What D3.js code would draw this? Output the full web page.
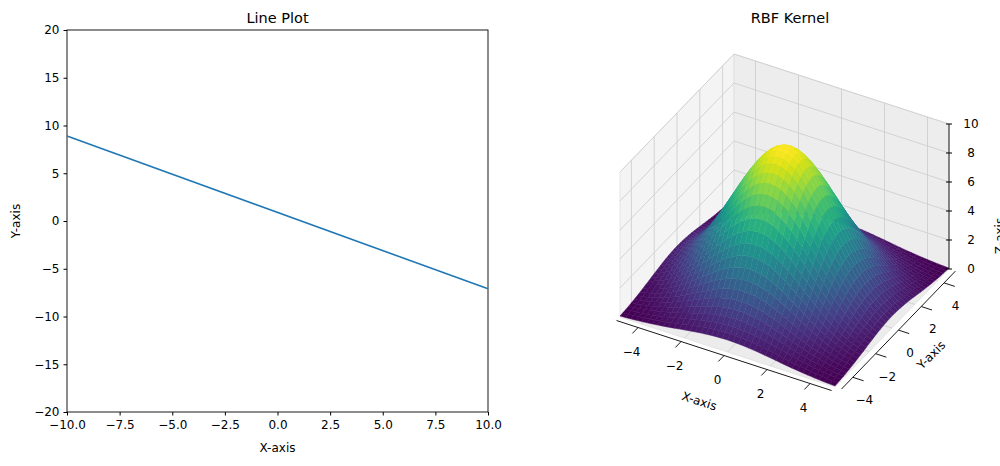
<!DOCTYPE html>
<html>
<head>
<meta charset="UTF-8">
<title>Line Plot / RBF Kernel</title>
<script src="https://d3js.org/d3.v7.min.js"></script>
<style>
  body { margin: 0; background: #fff; }
  text { font-family: "DejaVu Sans", sans-serif; fill: #000; }
</style>
</head>
<body>
<svg id="chart" width="1000" height="466"></svg>
<script>
// line plot data
var lineX = [-10, 10];
var lineY = [8.9, -7.1];
var xTicks = [-10, -7.5, -5, -2.5, 0, 2.5, 5, 7.5, 10];
var yTicks = [-20, -15, -10, -5, 0, 5, 10, 15, 20];

// RBF surface: profile along one axis (x = -5..5 step 0.25), z = 10 * p[i] * p[j]
var gridPos = d3.range(41).map(function (i) { return -5 + i * 0.25; });
var profile = [0.0821, 0.1047, 0.1320, 0.1643, 0.2019, 0.2451, 0.2938, 0.3478, 0.4066, 0.4694,
  0.5353, 0.6028, 0.6703, 0.7362, 0.7985, 0.8553, 0.9048, 0.9453, 0.9753, 0.9938, 1,
  0.9938, 0.9753, 0.9453, 0.9048, 0.8553, 0.7985, 0.7362, 0.6703, 0.6028, 0.5353,
  0.4694, 0.4066, 0.3478, 0.2938, 0.2451, 0.2019, 0.1643, 0.1320, 0.1047, 0.0821];
var peak = 10;
var xyTicks = [-4, -2, 0, 2, 4];
var zTicks = [0, 2, 4, 6, 8, 10];

var svg = d3.select("#chart");
var fmt = function (d) { return d3.format(".1f")(d).replace("-", "\u2212"); };
var fmtI = function (d) { return String(d).replace("-", "\u2212"); };

// ---- left: line plot
var L = {left: 67, right: 488, top: 30, bottom: 412};
var x = d3.scaleLinear().domain([-10, 10]).range([L.left, L.right]);
var y = d3.scaleLinear().domain([-20, 20]).range([L.bottom, L.top]);

var gx = svg.append("g").attr("transform", "translate(0," + L.bottom + ")")
  .call(d3.axisBottom(x).tickValues(xTicks).tickFormat(fmt).tickSizeOuter(0).tickSize(3.5).tickPadding(5));
var gy = svg.append("g").attr("transform", "translate(" + L.left + ",0)")
  .call(d3.axisLeft(y).tickValues(yTicks).tickFormat(fmtI).tickSizeOuter(0).tickSize(3.5).tickPadding(4));
[gx, gy].forEach(function (g) {
  g.selectAll("text").style("font-size", "12px").style("font-family", "DejaVu Sans");
  g.select(".domain").remove();
});
svg.append("rect").attr("x", L.left).attr("y", L.top)
  .attr("width", L.right - L.left).attr("height", L.bottom - L.top)
  .attr("fill", "none").attr("stroke", "#000").attr("stroke-width", 0.9);
svg.append("path")
  .attr("d", d3.line()(lineX.map(function (v, i) { return [x(v), y(lineY[i])]; })))
  .attr("stroke", "#1f77b4").attr("stroke-width", 1.6).attr("fill", "none");
svg.append("text").attr("x", (L.left + L.right) / 2).attr("y", 23).attr("text-anchor", "middle")
  .style("font-size", "14.5px").text("Line Plot");
svg.append("text").attr("x", (L.left + L.right) / 2).attr("y", 452).attr("text-anchor", "middle")
  .style("font-size", "12px").text("X-axis");
svg.append("text").attr("transform", "translate(20," + (L.top + L.bottom) / 2 + ") rotate(-90)")
  .attr("text-anchor", "middle").style("font-size", "12px").text("Y-axis");

// ---- right: 3D surface, oblique projection fitted to the box
var O = [784.5, 293], ex = [21.5, 7.0], ey = [11.4, -11.8], ez = [0, -14.5];
function P(px, py, pz) {
  return [O[0] + px * ex[0] + py * ey[0] + pz * ez[0], O[1] + px * ex[1] + py * ey[1] + pz * ez[1]];
}
var view = [0.433, -0.75, 0.5];
function depth(px, py, pz) { return (px / 10) * view[0] + (py / 10) * view[1] + (pz / 10) * view[2]; }
var line = d3.line();
var g3 = svg.append("g");

function pane(pts, fill) {
  g3.append("path").attr("d", line(pts.map(function (p) { return P(p[0], p[1], p[2]); })) + "Z")
    .attr("fill", fill).attr("stroke", "#e0e0e0").attr("stroke-width", 0.8);
}
pane([[-5, -5, 0], [5, -5, 0], [5, 5, 0], [-5, 5, 0]], "#ececec");
pane([[-5, -5, 0], [-5, 5, 0], [-5, 5, 10], [-5, -5, 10]], "#f4f4f4");
pane([[-5, 5, 0], [5, 5, 0], [5, 5, 10], [-5, 5, 10]], "#ededed");

function gl(a, b) {
  g3.append("path").attr("d", line([P.apply(null, a), P.apply(null, b)]))
    .attr("stroke", "#cfcfcf").attr("stroke-width", 0.9);
}
xyTicks.forEach(function (t) {
  gl([t, -5, 0], [t, 5, 0]); gl([t, 5, 0], [t, 5, 10]);
  gl([-5, t, 0], [5, t, 0]); gl([-5, t, 0], [-5, t, 10]);
});
zTicks.forEach(function (t) {
  gl([-5, -5, t], [-5, 5, t]); gl([-5, 5, t], [5, 5, t]);
});

// surface quads sorted back to front
var quads = [];
var n = gridPos.length;
for (var i = 0; i < n - 1; i++) {
  for (var j = 0; j < n - 1; j++) {
    var c = [[i, j], [i + 1, j], [i + 1, j + 1], [i, j + 1]].map(function (k) {
      return [gridPos[k[0]], gridPos[k[1]], peak * profile[k[0]] * profile[k[1]]];
    });
    var zm = d3.mean(c, function (p) { return p[2]; });
    var xm = (gridPos[i] + gridPos[i + 1]) / 2, ym = (gridPos[j] + gridPos[j + 1]) / 2;
    quads.push({c: c, z: zm, d: depth(xm, ym, zm)});
  }
}
quads.sort(function (a, b) { return a.d - b.d; });
var zMin = d3.min(quads, function (q) { return q.z; }), zMax = d3.max(quads, function (q) { return q.z; });
var col = d3.scaleSequential(d3.interpolateViridis).domain([zMin, zMax]);
g3.selectAll("path.q").data(quads).join("path").attr("class", "q")
  .attr("d", function (q) { return line(q.c.map(function (p) { return P(p[0], p[1], p[2]); })) + "Z"; })
  .attr("fill", function (q) { return col(q.z); })
  .attr("stroke", function (q) { return col(q.z); }).attr("stroke-width", 0.4);

// axes lines and ticks
function axisLine(a, b) {
  g3.append("path").attr("d", line([P.apply(null, a), P.apply(null, b)]))
    .attr("stroke", "#000").attr("stroke-width", 0.9);
}
axisLine([-5, -5.3, 0], [5, -5.3, 0]);
axisLine([5.3, -5, 0], [5.3, 5, 0]);
axisLine([5, 5, 0], [5, 5, 10]);
xyTicks.forEach(function (t) {
  axisLine([t, -5.3, 0], [t, -5.8, 0]);
  axisLine([5.3, t, 0], [5.8, t, 0]);
  var a = P(t, -5, 0), b = P(5, t, 0);
  g3.append("text").attr("x", a[0] - 10).attr("y", a[1] + 32).attr("text-anchor", "middle")
    .style("font-size", "12px").text(fmtI(t));
  g3.append("text").attr("x", b[0] + 18).attr("y", b[1] + 29).attr("text-anchor", "middle")
    .style("font-size", "12px").text(fmtI(t));
});
zTicks.forEach(function (t) {
  var a = P(5, 5, t);
  g3.append("path").attr("d", line([[a[0] - 3, a[1]], [a[0] + 3, a[1]]])).attr("stroke", "#000");
  g3.append("text").attr("x", a[0] + 22).attr("y", a[1] + 4).attr("text-anchor", "middle")
    .style("font-size", "12px").text(t);
});
g3.append("text").attr("transform", "translate(698,405) rotate(18)").attr("text-anchor", "middle")
  .style("font-size", "12px").text("X-axis");
g3.append("text").attr("transform", "translate(934,358) rotate(-45)").attr("text-anchor", "middle")
  .style("font-size", "12px").text("Y-axis");
g3.append("text").attr("transform", "translate(1004,236) rotate(-90)").attr("text-anchor", "middle")
  .style("font-size", "12px").text("Z-axis");
svg.append("text").attr("x", 790).attr("y", 23).attr("text-anchor", "middle")
  .style("font-size", "14.5px").text("RBF Kernel");
</script>
</body>
</html>
